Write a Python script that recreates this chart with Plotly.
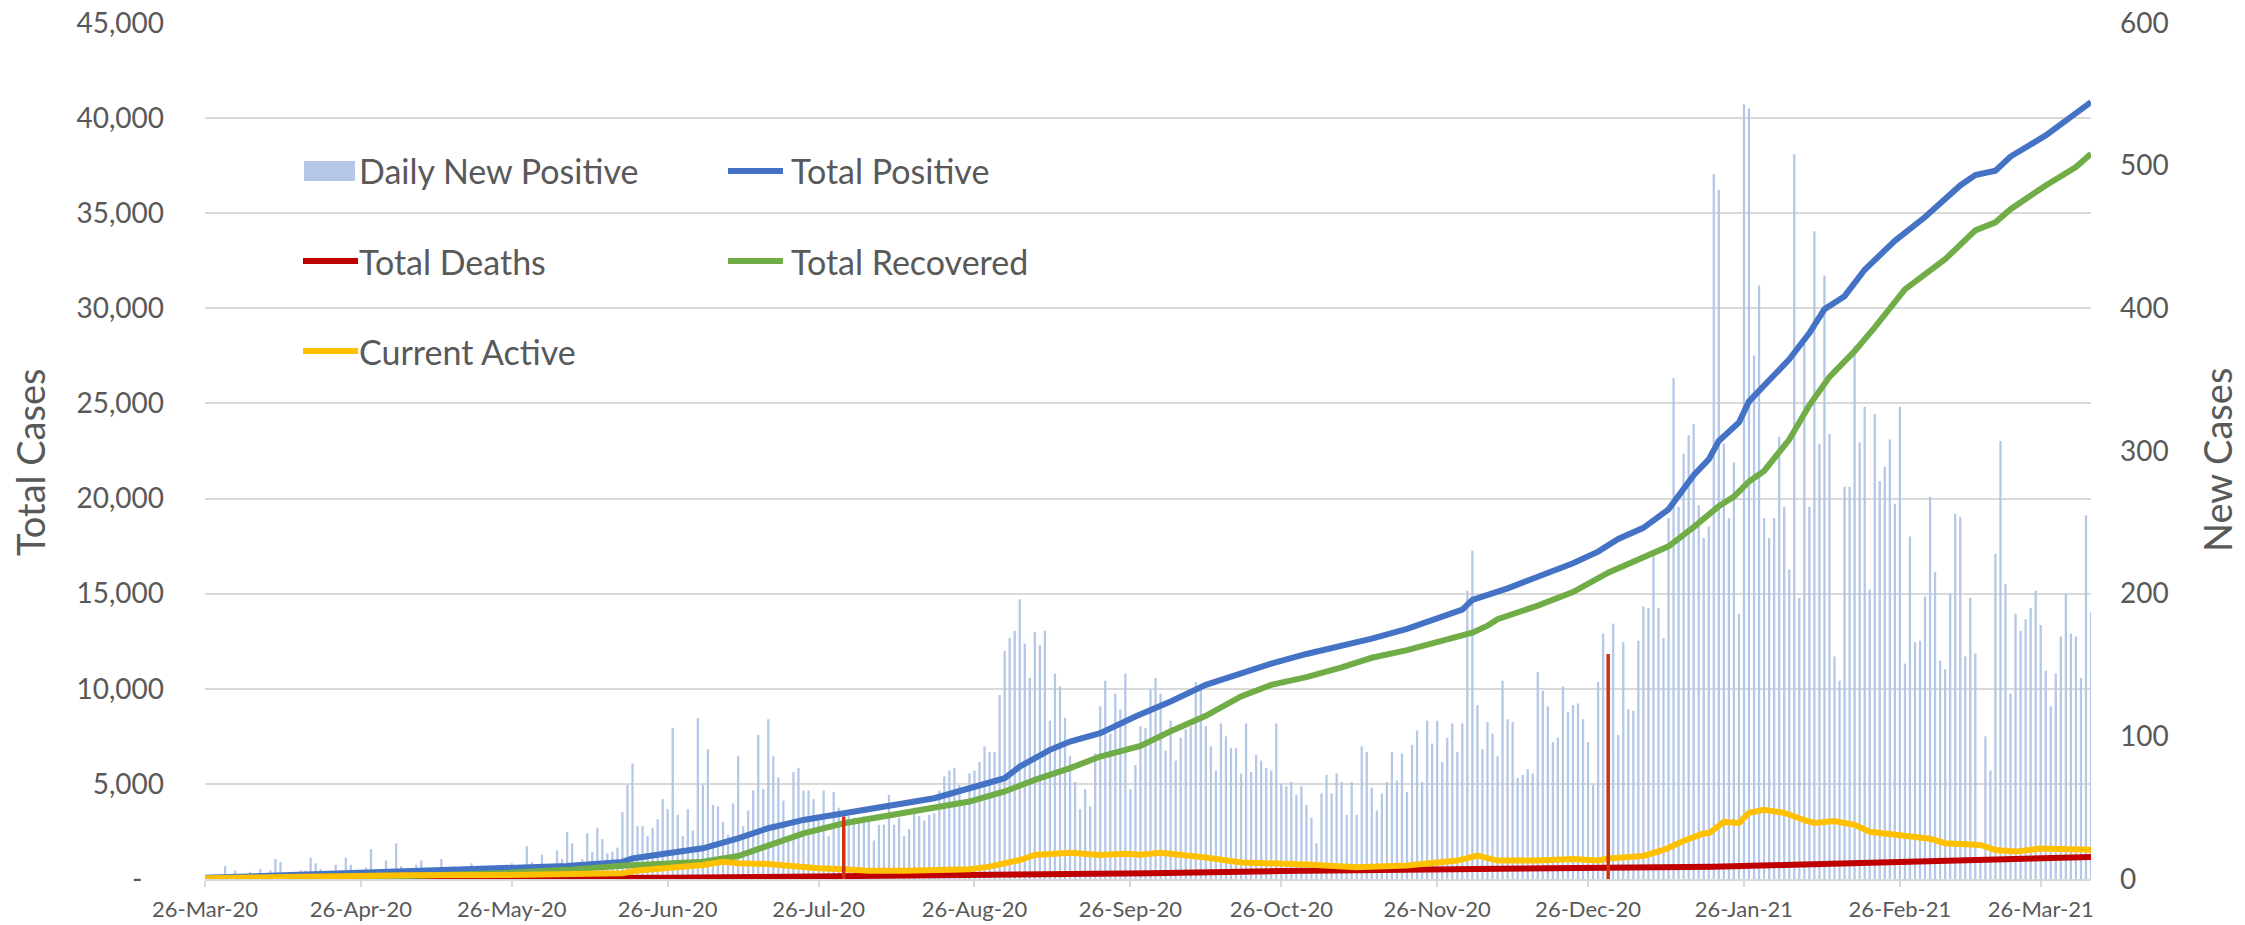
import pandas as pd
import plotly.graph_objects as go

# ---------------- DATA ----------------
start_date = "2020-03-26"

# Daily New Positive, one value per day from 26-Mar-20 (right axis)
daily_new_positive = [
    2, 1, 3, 2, 9, 3, 6, 2, 3, 5, 2, 7, 3, 6, 14, 12, 4, 3, 5, 6,
    6, 15, 11, 7, 4, 5, 10, 3, 15, 10, 6, 3, 8, 21, 4, 7, 13, 4, 25, 9,
    4, 5, 10, 13, 3, 4, 5, 14, 4, 3, 5, 4, 3, 11, 4, 8, 3, 5, 8, 4,
    5, 11, 8, 5, 23, 12, 10, 17, 5, 6, 20, 14, 33, 25, 12, 14, 32, 19, 36, 28,
    18, 19, 22, 47, 66, 81, 37, 37, 30, 36, 42, 56, 49,
    106, 45, 30, 49, 34, 113, 66, 91, 52, 51,
    40, 31, 53, 86, 37, 48, 62, 101, 63, 112,
    86, 71, 55, 28, 75, 78, 62, 62, 56, 41,
    62, 30, 61, 50, 45, 44, 43, 41, 44, 43,
    27, 38, 38, 59, 38, 43, 30, 35, 50, 44,
    41, 45, 46, 62, 72, 76, 78, 66, 55, 74,
    76, 82, 93, 89, 89, 129, 160, 169, 174, 196,
    165, 141, 173, 164, 174, 111, 144, 135, 113, 86,
    68, 49, 63, 51, 88, 121, 139, 102, 130, 119,
    144, 63, 80, 107, 106,
    133, 141, 130, 90, 111, 83, 99, 105, 107, 138,
    133, 107, 93, 76, 109, 100, 92, 92, 74, 109,
    75, 87, 83, 78, 76, 109, 67, 65, 68, 59,
    65, 52, 43, 25, 60, 73, 60, 74, 68, 45,
    68, 45, 93, 89, 64, 48, 60, 68, 89, 69,
    88, 61, 94, 104, 68, 111, 95, 111, 82, 99,
    109, 89, 109, 202, 230, 122, 91, 110, 102, 86,
    139, 112, 110, 71, 73, 77, 74, 145, 132, 121,
    96, 99, 135, 117, 122, 123, 112, 96, 66, 138,
    172, 90, 179, 101,
    166, 119, 118, 167, 191, 190, 227, 190, 169, 253,
    351, 261, 298, 311, 319, 262, 239, 247, 494, 483,
    305, 253, 292, 186, 543, 540, 367, 416, 253, 239,
    253, 310, 261, 217, 508, 197, 375, 261, 454, 305,
    423, 312, 156, 139, 275, 275, 374, 306, 331, 203,
    326, 279, 289, 308, 263, 331, 151, 240, 166, 167,
    198, 268, 215, 153, 147, 200, 256, 254, 156, 197,
    158, 15, 100, 76, 228, 307, 207, 130, 186, 174,
    182, 190, 202, 178, 146, 121, 144, 170, 200, 172,
    170, 141, 255, 187,
]

# Cumulative series (left axis), read at day offsets from 26-Mar-20
positive_days = [0, 18, 38, 58, 72, 83, 85, 92, 99, 106, 112, 119, 127, 135, 145, 152, 159, 162,
                 168, 172, 178, 185, 192, 199, 206, 212, 219, 226, 232, 239, 245, 250, 252, 259,
                 265, 272, 277, 281, 286, 291, 296, 299, 301, 305, 307, 310, 315, 319, 322, 326,
                 330, 336, 342, 349, 352, 356, 359, 366, 372, 375]
positive_vals = [60, 210, 385, 510, 685, 900, 1080, 1350, 1615, 2140, 2670, 3105, 3455, 3805, 4245,
                 4770, 5300, 5910, 6790, 7226, 7670, 8540, 9330, 10210, 10815, 11320, 11830, 12237,
                 12640, 13150, 13660, 14160, 14670, 15280, 15890, 16600, 17210, 17880, 18460, 19430,
                 21230, 22060, 23030, 24000, 25110, 25940, 27320, 28700, 29950, 30640, 32030, 33550,
                 34800, 36460, 37010, 37230, 37980, 39090, 40200, 40840]

deaths_days = [0, 30, 60, 80, 92, 110, 140, 160, 188, 214, 240, 260, 279, 300, 314, 330, 342, 360, 375]
deaths_vals = [0, 5, 20, 40, 65, 110, 170, 220, 300, 420, 480, 530, 565, 650, 735, 830, 910, 1050, 1160]

recovered_days = [0, 18, 38, 58, 72, 83, 92, 99, 106, 112, 119, 127, 135, 145, 152, 159, 165, 172,
                  178, 186, 192, 199, 206, 212, 219, 226, 232, 239, 245, 252, 255, 257, 265, 272,
                  279, 285, 291, 296, 301, 304, 307, 310, 312, 315, 319, 323, 328, 332, 338, 346,
                  352, 356, 359, 366, 372, 375]
recovered_vals = [0, 40, 140, 300, 480, 700, 825, 910, 1210, 1790, 2400, 2930, 3280, 3720, 4070,
                  4600, 5210, 5830, 6440, 7000, 7770, 8580, 9595, 10210, 10610, 11120, 11630, 12030,
                  12435, 12950, 13315, 13660, 14370, 15080, 16100, 16790, 17490, 18500, 19600, 20100,
                  20900, 21450, 22100, 23100, 24900, 26400, 27750, 29000, 31000, 32580, 34100, 34520,
                  35210, 36460, 37430, 38120]

active_days = [0, 20, 40, 60, 75, 83, 86, 92, 99, 103, 106, 112, 116, 122, 127, 132, 139, 145, 152,
               156, 162, 165, 172, 178, 183, 186, 190, 199, 206, 219, 229, 239, 249, 253, 255, 257,
               265, 272, 277, 279, 286, 290, 294, 298, 299, 302, 305, 307, 310, 314, 318, 320, 324,
               328, 331, 337, 343, 346, 353, 356, 360, 365, 371, 375]
active_vals = [40, 130, 200, 210, 220, 300, 450, 560, 737, 910, 825, 790, 684, 560, 510, 440, 440,
               475, 510, 650, 1000, 1263, 1385, 1263, 1330, 1275, 1375, 1130, 870, 765, 620, 705,
               970, 1230, 1130, 970, 970, 1050, 970, 1080, 1210, 1530, 2000, 2400, 2400, 3000, 2950,
               3480, 3640, 3480, 3100, 2950, 3050, 2850, 2480, 2300, 2120, 1880, 1790, 1520, 1440,
               1600, 1520, 1540]

# Two single-day spikes in the deaths data (left axis)
spike_days = [127, 279]
spike_vals = [3280, 11830]

tick_labels = ["26-Mar-20", "26-Apr-20", "26-May-20", "26-Jun-20", "26-Jul-20", "26-Aug-20",
               "26-Sep-20", "26-Oct-20", "26-Nov-20", "26-Dec-20", "26-Jan-21", "26-Feb-21",
               "26-Mar-21"]
tick_dates = ["2020-03-26", "2020-04-26", "2020-05-26", "2020-06-26", "2020-07-26", "2020-08-26",
              "2020-09-26", "2020-10-26", "2020-11-26", "2020-12-26", "2021-01-26", "2021-02-26",
              "2021-03-26"]
left_tick_vals = [0, 5000, 10000, 15000, 20000, 25000, 30000, 35000, 40000, 45000]
left_tick_text = ["-\u00a0\u00a0\u00a0", "5,000", "10,000", "15,000", "20,000", "25,000",
                  "30,000", "35,000", "40,000", "45,000"]
right_tick_vals = [0, 100, 200, 300, 400, 500, 600]

# ---------------- FIGURE ----------------
base = pd.Timestamp(start_date)
bar_dates = pd.date_range(base, periods=len(daily_new_positive), freq="D")


def to_dates(days):
    return [base + pd.Timedelta(days=d) for d in days]


W, H = 2245, 925
L, R, T, B = 205, 154, 23, 46
FONT = "Lato, 'Open Sans', sans-serif"
TXT = "#595959"
GRID = "#D9D9D9"
LW = 6

fig = go.Figure()

fig.add_trace(go.Bar(
    x=bar_dates, y=daily_new_positive, name="Daily New Positive",
    marker=dict(color="#B4C7E7", line=dict(width=0)),
    width=0.45 * 86400000, yaxis="y", showlegend=False, hoverinfo="x+y"))

fig.add_trace(go.Scatter(x=to_dates(positive_days), y=positive_vals, name="Total Positive",
                         mode="lines", line=dict(color="#4472C4", width=LW), yaxis="y2",
                         showlegend=False))
fig.add_trace(go.Scatter(x=to_dates(deaths_days), y=deaths_vals, name="Total Deaths",
                         mode="lines", line=dict(color="#C00000", width=LW), yaxis="y2",
                         showlegend=False))
fig.add_trace(go.Scatter(x=to_dates(recovered_days), y=recovered_vals, name="Total Recovered",
                         mode="lines", line=dict(color="#70AD47", width=LW), yaxis="y2",
                         showlegend=False))
fig.add_trace(go.Scatter(x=to_dates(active_days), y=active_vals, name="Current Active",
                         mode="lines", line=dict(color="#FFC000", width=LW), yaxis="y2",
                         showlegend=False))

# spikes as vertical segments from 0 to the value on the spike day
sx, sy = [], []
for d, v in zip(spike_days, spike_vals):
    dt = base + pd.Timedelta(days=d)
    sx += [dt, dt, None]
    sy += [0, v, None]
fig.add_trace(go.Scatter(x=sx, y=sy, mode="lines", line=dict(color="#CC3311", width=3.5),
                         yaxis="y2", showlegend=False, hoverinfo="skip"))

# ---------------- LAYOUT ----------------
PW = W - L - R
PH = H - T - B


def px(x):
    return (x - L) / PW


def py(y):
    return (H - B - y) / PH


shapes = []
annotations = []
legend_items = [
    ("Daily New Positive", "#B4C7E7", "bar", 304, 171),
    ("Total Positive", "#4472C4", "line", 728, 171),
    ("Total Deaths", "#C00000", "line", 303, 261),
    ("Total Recovered", "#70AD47", "line", 728, 261),
    ("Current Active", "#FFC000", "line", 303, 351),
]
for label, color, kind, x0, yc in legend_items:
    if kind == "bar":
        shapes.append(dict(type="rect", xref="paper", yref="paper", x0=px(x0), x1=px(x0 + 51),
                           y0=py(yc + 10), y1=py(yc - 10), fillcolor=color, line=dict(width=0)))
        tx = x0 + 53
    else:
        shapes.append(dict(type="line", xref="paper", yref="paper", x0=px(x0), x1=px(x0 + 55),
                           y0=py(yc), y1=py(yc), line=dict(color=color, width=6)))
        tx = x0 + 61 if x0 > 500 else x0 + 54
    annotations.append(dict(text=label, xref="paper", yref="paper", x=px(tx), y=py(yc),
                            xanchor="left", yanchor="middle", showarrow=False,
                            font=dict(family=FONT, size=34, color=TXT)))

annotations.append(dict(text="Total Cases", xref="paper", yref="paper", x=px(30), y=py(463),
                        xanchor="center", yanchor="middle", textangle=-90, showarrow=False,
                        font=dict(family=FONT, size=38, color=TXT)))
annotations.append(dict(text="New Cases", xref="paper", yref="paper", x=px(2217), y=py(460),
                        xanchor="center", yanchor="middle", textangle=-90, showarrow=False,
                        font=dict(family=FONT, size=38, color=TXT)))

fig.update_layout(
    width=W, height=H, autosize=False,
    margin=dict(l=L, r=R, t=T, b=B, pad=0, autoexpand=False),
    paper_bgcolor="white", plot_bgcolor="white",
    barmode="overlay",
    showlegend=False,
    font=dict(family=FONT, color=TXT),
    xaxis=dict(type="date", range=[base, base + pd.Timedelta(days=375)],
               tickvals=tick_dates, ticktext=tick_labels, automargin=False,
               tickfont=dict(family=FONT, size=22, color=TXT),
               ticks="outside", ticklen=6, tickwidth=1.5, tickcolor=GRID,
               showline=True, linecolor=GRID, linewidth=1.5,
               showgrid=False, zeroline=False, ticklabelstandoff=4),
    yaxis=dict(range=[0, 600], tickvals=right_tick_vals, side="right", automargin=False,
               showgrid=False, zeroline=False, showline=False,
               tickfont=dict(family=FONT, size=28, color=TXT), ticklabelstandoff=28),
    yaxis2=dict(range=[0, 45000], tickvals=left_tick_vals, ticktext=left_tick_text,
                side="left", overlaying="y", showgrid=True, gridcolor=GRID, gridwidth=1.5,
                zeroline=False, showline=False, automargin=False,
                tickfont=dict(family=FONT, size=28, color=TXT), ticklabelstandoff=40),
    shapes=shapes,
    annotations=annotations,
)

fig.write_html("out.html",
               config={"displayModeBar": False},
               post_script="document.body.style.margin='0';document.body.style.overflow='hidden';")
